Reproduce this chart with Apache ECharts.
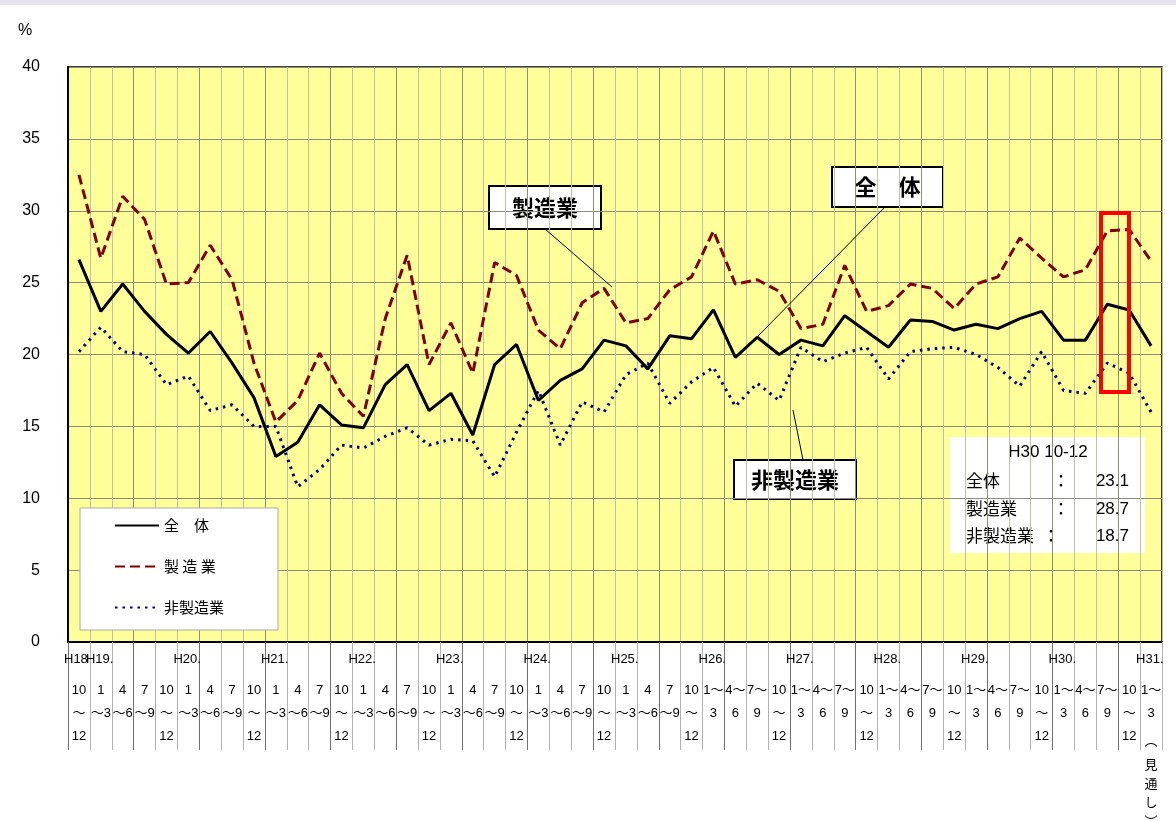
<!DOCTYPE html>
<html>
<head>
<meta charset="utf-8">
<script src="https://cdn.jsdelivr.net/npm/echarts@6/dist/echarts.min.js"></script>
<style>
  html, body { margin: 0; padding: 0; background: #fff; }
  #strip { position: absolute; left: 0; top: 0; width: 1176px; height: 5px; background: #e7e2ef; }
  #chart { width: 1176px; height: 821px; }
</style>
</head>
<body>
<div id="chart"></div>
<div id="strip"></div>
<script>
// quarterly survey, H18 10-12 .. H31 1-3 (見通し)
const quarterLabels = [
  '10\n～\n12',
  '1\n～3', '4\n～6', '7\n～9', '10\n～\n12',   // H19
  '1\n～3', '4\n～6', '7\n～9', '10\n～\n12',   // H20
  '1\n～3', '4\n～6', '7\n～9', '10\n～\n12',   // H21
  '1\n～3', '4\n～6', '7\n～9', '10\n～\n12',   // H22
  '1\n～3', '4\n～6', '7\n～9', '10\n～\n12',   // H23
  '1\n～3', '4\n～6', '7\n～9', '10\n～\n12',   // H24
  '1\n～3', '4\n～6', '7\n～9', '10\n～\n12',   // H25
  '1～\n3', '4～\n6', '7～\n9', '10\n～\n12',   // H26
  '1～\n3', '4～\n6', '7～\n9', '10\n～\n12',   // H27
  '1～\n3', '4～\n6', '7～\n9', '10\n～\n12',   // H28
  '1～\n3', '4～\n6', '7～\n9', '10\n～\n12',   // H29
  '1～\n3', '4～\n6', '7～\n9', '10\n～\n12',   // H30
  '1～\n3\n{p|︵}\n{v|見\n通\nし\n︶}'           // H31 見通し
];

// year labels sit on the category boundaries (51 of them)
const yearLabels = [
  'H18', 'H19.', '', '', '', 'H20.', '', '', '', 'H21.', '', '', '', 'H22.', '', '', '',
  'H23.', '', '', '', 'H24.', '', '', '', 'H25.', '', '', '', 'H26.', '', '', '',
  'H27.', '', '', '', 'H28.', '', '', '', 'H29.', '', '', '', 'H30.', '', '', '', 'H31.', ''
];

const total = [
  26.6, 23.0, 24.9, 23.0, 21.4, 20.1, 21.6, 19.4, 17.0, 12.9,
  13.9, 16.5, 15.1, 14.9, 17.9, 19.3, 16.1, 17.3, 14.4, 19.3,
  20.7, 16.8, 18.2, 19.0, 21.0, 20.6, 19.0, 21.3, 21.1, 23.1,
  19.8, 21.2, 20.0, 21.0, 20.6, 22.7, 21.6, 20.5, 22.4, 22.3,
  21.7, 22.1, 21.8, 22.5, 23.0, 21.0, 21.0, 23.5, 23.1, 20.6
];

const manufacturing = [
  32.5, 26.7, 31.0, 29.4, 24.9, 25.0, 27.6, 25.2, 19.4, 15.3,
  16.8, 20.1, 17.3, 15.7, 22.5, 26.9, 19.3, 22.2, 18.7, 26.4,
  25.5, 21.7, 20.4, 23.6, 24.6, 22.2, 22.5, 24.5, 25.4, 28.6,
  24.9, 25.2, 24.4, 21.8, 22.1, 26.2, 23.0, 23.4, 24.9, 24.6,
  23.2, 24.9, 25.4, 28.1, 26.7, 25.4, 25.9, 28.6, 28.7, 26.5
];

const nonManufacturing = [
  20.2, 21.9, 20.2, 20.0, 17.9, 18.5, 16.1, 16.5, 15.0, 15.0,
  10.8, 12.0, 13.7, 13.5, 14.3, 14.9, 13.7, 14.1, 14.0, 11.5,
  14.6, 17.5, 13.7, 16.7, 16.0, 18.6, 19.4, 16.6, 18.1, 19.1,
  16.4, 18.0, 16.8, 20.5, 19.5, 20.1, 20.5, 18.3, 20.2, 20.4,
  20.5, 20.0, 19.1, 17.8, 20.2, 17.5, 17.3, 19.4, 18.7, 16.0
];

const yTicks = ['0', '5', '10', '15', '20', '25', '30', '35', '40'];
const latestIdx = 48; // H30 10-12

const latin = '"Liberation Sans", Arial, "Noto Sans CJK JP", sans-serif';
const jp = '"Noto Sans CJK JP", "Liberation Sans", sans-serif';

const chart = echarts.init(document.getElementById('chart'));

const legendNames = { '全体': '全　体', '製造業': '製 造 業', '非製造業': '非製造業' };

function boxLabel(x, y, w, h, text) {
  return {
    type: 'group',
    children: [
      { type: 'rect', shape: { x: x, y: y, width: w, height: h },
        style: { fill: '#fff', stroke: '#000', lineWidth: 2 } },
      { type: 'text', x: x + w / 2, y: y + h / 2,
        style: { text: text, fill: '#000', font: 'bold 22px ' + jp, align: 'center', verticalAlign: 'middle' } }
    ]
  };
}

function infoRow(y, name, colonX, value) {
  return [
    { type: 'text', x: 966, y: y, style: { text: name, fill: '#000', font: '17px ' + jp, verticalAlign: 'middle' } },
    { type: 'text', x: colonX, y: y, style: { text: '：', fill: '#000', font: '17px ' + jp, align: 'center', verticalAlign: 'middle' } },
    { type: 'text', x: 1129, y: y, style: { text: value.toFixed(1), fill: '#000', font: '17px ' + latin, align: 'right', verticalAlign: 'middle' } }
  ];
}

const option = {
  animation: false,
  backgroundColor: '#fff',
  grid: {
    left: 68, right: 14, top: 67, bottom: 179,
    outerBoundsMode: 'none',
    show: true, backgroundColor: '#ffff99', borderColor: '#000', borderWidth: 1.5
  },
  legend: {
    orient: 'vertical',
    left: 80, top: 508,
    padding: [10, 54, 15, 34],
    itemWidth: 44, itemHeight: 14, itemGap: 26,
    backgroundColor: '#fff',
    borderColor: '#aaa', borderWidth: 1,
    itemStyle: { opacity: 0 },
    textStyle: { fontFamily: jp, fontSize: 15, color: '#000' },
    formatter: (name) => legendNames[name] || name,
    data: ['全体', '製造業', '非製造業']
  },
  xAxis: [
    {
      type: 'category',
      data: quarterLabels,
      boundaryGap: true,
      axisLine: { lineStyle: { color: '#000', width: 2 } },
      axisTick: { show: true, interval: 0, length: 108, lineStyle: { color: '#b0b0b0', width: 1 } },
      axisLabel: {
        interval: 0, margin: 37, color: '#000',
        fontFamily: latin, fontSize: 13, lineHeight: 23,
        rich: {
          p: { fontFamily: jp, fontSize: 13, lineHeight: 30, color: '#000' },
          v: { fontFamily: jp, fontSize: 13, lineHeight: 19, color: '#000' }
        }
      },
      splitLine: { show: true, interval: 0, lineStyle: { color: ['#8f8f78', '#c0c0a8', '#c0c0a8'], width: 1 } }
    },
    {
      type: 'category',
      data: yearLabels,
      boundaryGap: false,
      position: 'bottom',
      axisLine: { show: false },
      axisTick: {
        show: true, length: 108,
        interval: (i) => i % 3 === 0,
        lineStyle: { color: '#707070', width: 1 }
      },
      axisLabel: {
        interval: 0, margin: 11, color: '#000',
        formatter: (v) => v ? '{y|' + v + '}' : '',
        rich: { y: { width: 8, align: 'left', fontFamily: latin, fontSize: 13, color: '#000' } }
      },
      splitLine: { show: false }
    }
  ],
  yAxis: {
    type: 'value',
    min: 0, max: 40, interval: 5,
    axisLine: { show: true, lineStyle: { color: '#000', width: 2 } },
    axisTick: { show: false },
    axisLabel: {
      margin: 28, color: '#000', fontFamily: latin, fontSize: 16,
      formatter: (v) => yTicks[Math.round(v / 5)]
    },
    splitLine: { show: true, lineStyle: { color: '#8c8c7a', width: 1 } }
  },
  series: [
    {
      name: '全体', type: 'line', data: total, xAxisIndex: 0,
      symbol: 'none', z: 4,
      lineStyle: { color: '#000', width: 3 }, itemStyle: { color: '#000' }
    },
    {
      name: '製造業', type: 'line', data: manufacturing, xAxisIndex: 0,
      symbol: 'none', z: 3,
      lineStyle: { color: '#800000', width: 3, type: [10, 5] }, itemStyle: { color: '#800000' }
    },
    {
      name: '非製造業', type: 'line', data: nonManufacturing, xAxisIndex: 0,
      symbol: 'none', z: 2,
      lineStyle: { color: '#000080', width: 3, type: [2.5, 5] }, itemStyle: { color: '#000080' }
    }
  ],
  graphic: [
    { type: 'text', x: 25, y: 31, style: { text: '%', fill: '#000', font: '16px ' + latin, align: 'center', verticalAlign: 'middle' } },
    // call-out lines
    { type: 'line', shape: { x1: 545, y1: 229, x2: 612, y2: 287 }, style: { stroke: '#000', lineWidth: 1 }, z: 10 },
    { type: 'line', shape: { x1: 885, y1: 207, x2: 757, y2: 337 }, style: { stroke: '#000', lineWidth: 1 }, z: 10 },
    { type: 'line', shape: { x1: 793, y1: 410, x2: 803, y2: 460 }, style: { stroke: '#000', lineWidth: 1 }, z: 10 },
    Object.assign(boxLabel(489, 186, 112, 43, '製造業'), { z: 10 }),
    Object.assign(boxLabel(832, 167, 111, 40, '全　体'), { z: 10 }),
    Object.assign(boxLabel(734, 460, 122, 39, '非製造業'), { z: 10 }),
    // latest quarter highlight
    { type: 'rect', z: 11, shape: { x: 1101, y: 213, width: 28, height: 179 },
      style: { fill: 'none', stroke: '#ff0000', lineWidth: 4 } },
    // latest values box
    {
      type: 'group', z: 10,
      children: [
        { type: 'rect', shape: { x: 950, y: 437, width: 195, height: 116 }, style: { fill: '#fff' } },
        { type: 'text', x: 1048, y: 452, style: { text: 'H30 10-12', fill: '#000', font: '17px ' + latin, align: 'center', verticalAlign: 'middle' } }
      ]
        .concat(infoRow(481, '全体', 1061, total[latestIdx]))
        .concat(infoRow(509, '製造業', 1061, manufacturing[latestIdx]))
        .concat(infoRow(536, '非製造業', 1051, nonManufacturing[latestIdx]))
    }
  ]
};

chart.setOption(option);
</script>
</body>
</html>
